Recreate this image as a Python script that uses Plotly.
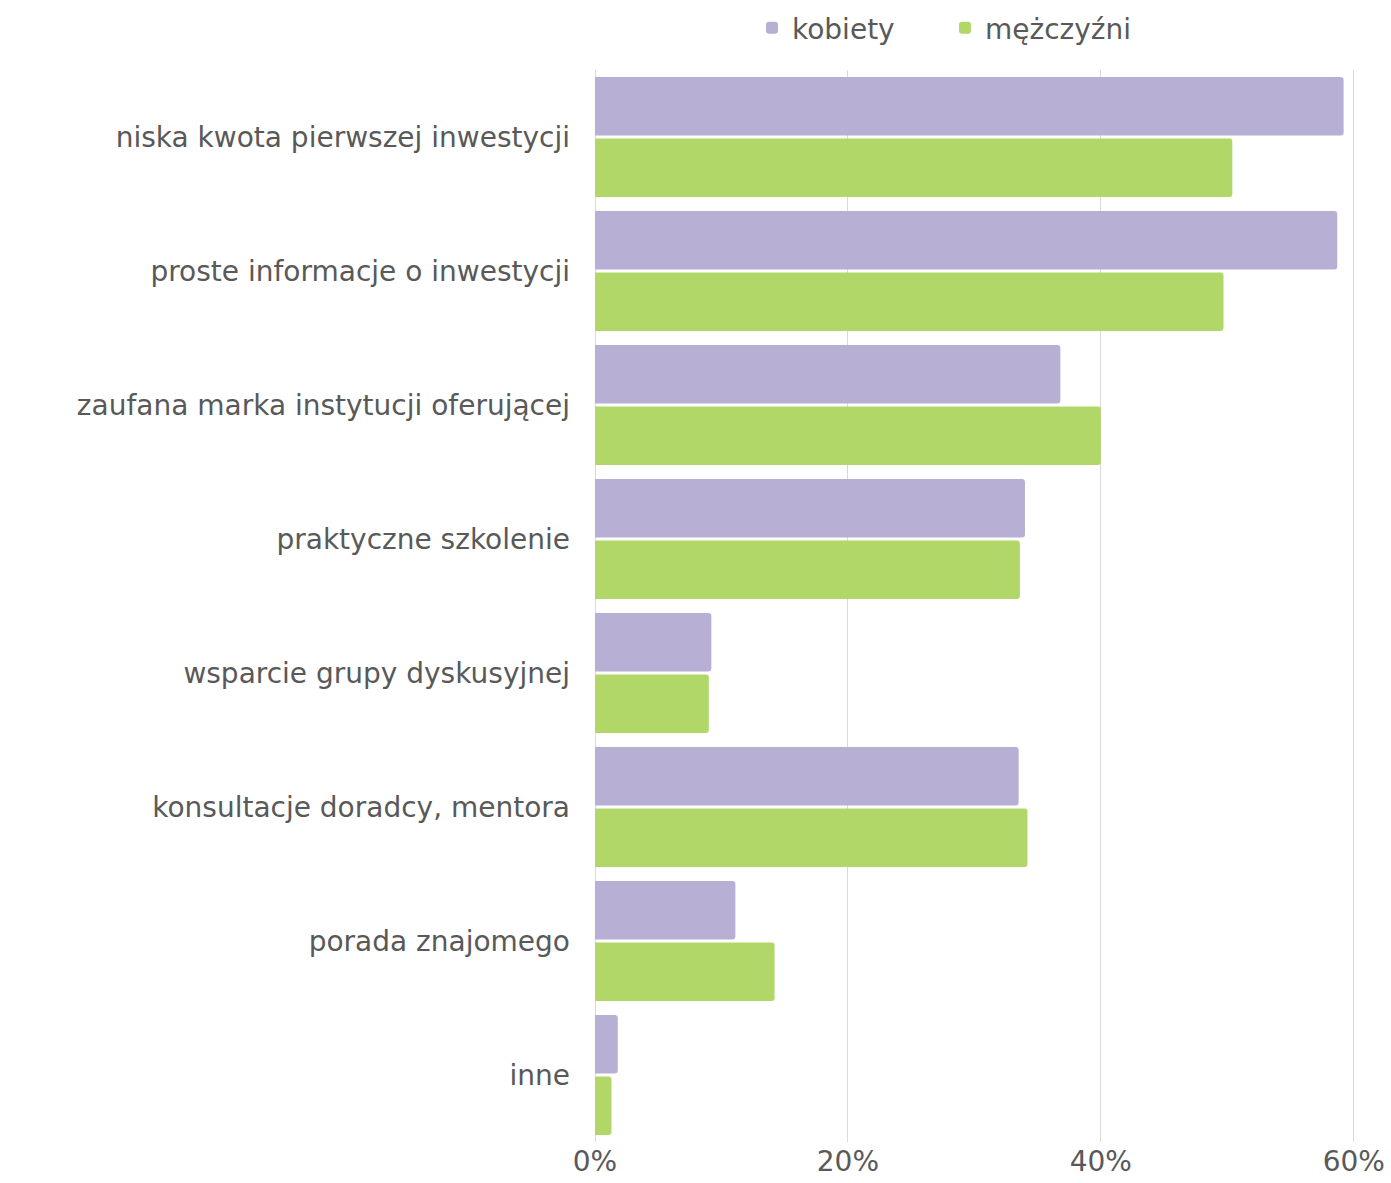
import plotly.graph_objects as go

categories = [
    "niska kwota pierwszej inwestycji",
    "proste informacje o inwestycji",
    "zaufana marka instytucji oferującej",
    "praktyczne szkolenie",
    "wsparcie grupy dyskusyjnej",
    "konsultacje doradcy, mentora",
    "porada znajomego",
    "inne",
]
kobiety = [59.2, 58.7, 36.8, 34.0, 9.2, 33.5, 11.1, 1.8]
mezczyzni = [50.4, 49.7, 40.0, 33.6, 9.0, 34.2, 14.2, 1.3]
tick_vals = [0, 20, 40, 60]
tick_text = ["0%", "20%", "40%", "60%"]

FONT = "DejaVu Sans"
TXT = "#595959"
W, H = 1391, 1183

fig = go.Figure()
fig.add_trace(go.Bar(
    y=categories, x=kobiety, name="kobiety", orientation="h",
    marker=dict(color="#B7AFD4", cornerradius=3, line=dict(width=0)),
))
fig.add_trace(go.Bar(
    y=categories, x=mezczyzni, name="mężczyźni", orientation="h",
    marker=dict(color="#B0D767", cornerradius=3, line=dict(width=0)),
))

fig.update_layout(
    width=W, height=H,
    barmode="group", bargap=0.08, bargroupgap=0.05,
    plot_bgcolor="white", paper_bgcolor="white",
    margin=dict(l=595, r=36, t=70, b=41, autoexpand=False),
    font=dict(family=FONT, color=TXT, size=28),
    hovermode=False,
    legend=dict(
        orientation="h", xref="container", yref="container",
        x=945 / W, xanchor="center", y=1 - 28 / H, yanchor="middle",
        font=dict(size=28, color=TXT), itemsizing="constant",
        traceorder="normal", entrywidth=148,
    ),
    xaxis=dict(
        range=[0, 60.1], tickvals=tick_vals, ticktext=tick_text,
        showgrid=True, gridcolor="#D9D9D9", gridwidth=1,
        zeroline=True, zerolinecolor="#D9D9D9", zerolinewidth=1,
        showline=False, ticks="", tickfont=dict(size=28, color=TXT),
        ticklabeloverflow="allow", fixedrange=True,
    ),
    yaxis=dict(
        autorange="reversed", showgrid=False, ticks="", ticklabelstandoff=24,
        tickfont=dict(size=28, color=TXT), showline=False, fixedrange=True,
    ),
)

fig.write_html(
    "out.html",
    config={"displayModeBar": False},
    post_script="document.body.style.margin='0';document.body.style.overflow='hidden';",
)
